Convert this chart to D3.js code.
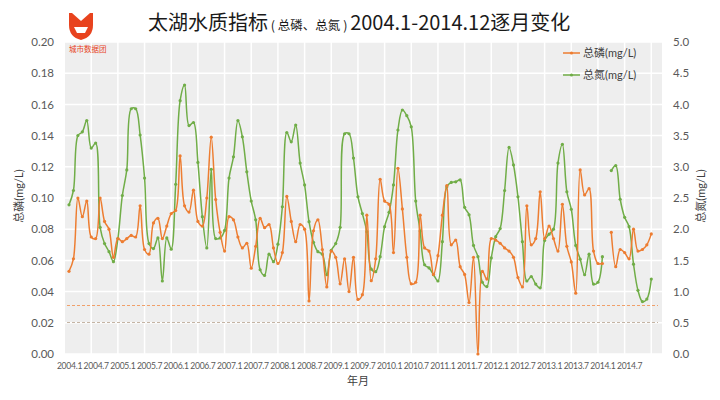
<!DOCTYPE html>
<html><head><meta charset="utf-8">
<script src="https://cdn.jsdelivr.net/npm/d3@7"></script>
<style>
html,body{margin:0;padding:0;background:#fff;}
svg{display:block;}
text{font-family:"Lato","Noto Sans CJK SC",sans-serif;}
</style></head>
<body><svg id="c" width="720" height="400"></svg>
<script>
const years = [2004,2005,2006,2007,2008,2009,2010,2011,2012,2013,2014];
const tickLabels = ["2004.1","2004.7","2005.1","2005.7","2006.1","2006.7","2007.1","2007.7","2008.1","2008.7","2009.1","2009.7","2010.1","2010.7","2011.1","2011.7","2012.1","2012.7","2013.1","2013.7","2014.1","2014.7"];
const leftTicks = [0,0.02,0.04,0.06,0.08,0.10,0.12,0.14,0.16,0.18,0.20];
const rightTicks = [0,0.5,1.0,1.5,2.0,2.5,3.0,3.5,4.0,4.5,5.0];
const seriesNames = ["总磷(mg/L)","总氮(mg/L)"];
// 总磷 TP monthly (mg/L), left axis
const tp = [0.053,0.061,0.100,0.088,0.098,0.075,0.074,0.100,0.085,0.080,0.062,0.074,
0.072,0.074,0.076,0.075,0.095,0.067,0.064,0.084,0.087,0.074,0.082,0.090,
0.092,0.127,0.095,0.091,0.105,0.085,0.082,0.100,0.139,0.099,0.078,0.066,
0.088,0.086,0.075,0.068,0.071,0.055,0.069,0.087,0.081,0.083,0.068,0.058,
0.065,0.101,0.085,0.072,0.083,0.080,0.034,0.079,0.086,0.067,0.043,0.066,
0.062,0.045,0.061,0.040,0.062,0.035,0.038,0.089,0.047,0.061,0.112,0.098,
0.096,0.065,0.119,0.093,0.062,0.045,0.046,0.089,0.068,0.066,0.051,0.063,
0.089,0.108,0.070,0.073,0.056,0.051,0.033,0.062,0.000,0.053,0.048,0.074,
0.073,0.071,0.068,0.066,0.062,0.049,0.043,0.095,0.070,0.074,0.104,0.074,
0.082,0.074,0.066,0.096,0.069,0.059,0.039,0.118,0.102,0.106,0.066,0.058,
0.058,null,0.078,0.056,0.067,0.065,0.061,0.080,0.066,0.067,0.070,0.077];
// 总氮 TN monthly (mg/L), right axis
const tn = [2.39,2.62,3.50,3.56,3.74,3.30,3.38,2.03,1.77,1.64,1.48,1.85,
2.54,2.95,3.93,3.93,3.51,2.82,1.77,1.69,1.86,1.17,1.86,1.68,
2.72,4.06,4.31,3.66,3.71,3.07,2.20,1.70,2.96,1.85,1.86,1.98,
2.82,3.16,3.74,3.48,2.92,2.45,2.15,1.35,1.26,1.60,1.48,1.76,
2.36,3.55,3.40,3.67,3.06,2.71,2.12,1.79,1.64,1.60,1.27,1.66,
1.77,2.03,3.53,3.53,3.14,2.52,2.25,1.96,1.36,1.32,1.56,2.04,
2.27,2.71,3.59,3.91,3.82,3.64,2.45,1.97,1.43,1.38,1.27,1.17,
1.80,2.68,2.75,2.76,2.79,2.35,2.23,1.74,1.56,1.15,1.08,1.54,
1.88,2.01,2.62,3.31,3.03,2.52,1.80,1.17,1.24,1.12,1.06,1.82,
1.92,2.00,3.06,3.36,2.60,2.32,1.74,1.52,1.27,1.60,1.12,1.15,
1.56,null,2.94,3.02,2.48,2.19,2.04,1.44,1.02,0.84,0.88,1.20];
const refLines = [0.031, 0.02];

const months = [];
years.forEach(y => { for (let m = 1; m <= 12; m++) months.push(y + "." + m); });

const svg = d3.select("#c");
const L = 65, R = 662, T = 42, B = 354;
const x = d3.scaleLinear().domain([0, months.length - 1]).range([69, 651.3]);
const yL = d3.scaleLinear().domain([0, 0.2]).range([B, T]);
const yR = d3.scaleLinear().domain([0, 5]).range([B, T]);
const cOr = "#ED7D31", cGr = "#70AD47";

svg.append("rect").attr("x", L).attr("y", T).attr("width", R - L).attr("height", B - T).attr("fill", "#eeeeee");

// gridlines
const g = svg.append("g").attr("stroke", "#ffffff").attr("stroke-width", 1.5);
leftTicks.forEach(v => g.append("line").attr("x1", L).attr("x2", R).attr("y1", yL(v)).attr("y2", yL(v)));
d3.range(5, months.length, 6).forEach(i => g.append("line").attr("x1", x(i)).attr("x2", x(i)).attr("y1", T).attr("y2", B));

// reference dashed lines (snapped to pixel centres)
const snap = v => Math.floor(v) + 0.5;
svg.append("line").attr("x1", L + 2).attr("x2", R - 4).attr("y1", snap(yL(refLines[0]))).attr("y2", snap(yL(refLines[0])))
  .attr("stroke", "#F0A06A").attr("stroke-width", 1).attr("stroke-dasharray", "3,2");
svg.append("line").attr("x1", L + 2).attr("x2", R - 4).attr("y1", snap(yL(refLines[1]))).attr("y2", snap(yL(refLines[1])))
  .attr("stroke", "#C4B4A4").attr("stroke-width", 1).attr("stroke-dasharray", "3,2");

// axes
const axL = svg.append("g").attr("transform", `translate(${L - 8},0)`)
  .call(d3.axisLeft(yL).tickValues(leftTicks).tickFormat(d3.format(".2f")).tickSize(0));
const axR = svg.append("g").attr("transform", `translate(${R + 8},0)`)
  .call(d3.axisRight(yR).tickValues(rightTicks).tickFormat(d3.format(".1f")).tickSize(0));
const axB = svg.append("g").attr("transform", `translate(0,${B + 6})`)
  .call(d3.axisBottom(x).tickValues(d3.range(0, months.length, 6)).tickFormat((d, k) => tickLabels[k]).tickSize(0));
[axL, axR, axB].forEach(a => { a.select(".domain").remove(); a.selectAll("text").attr("fill", "#595959").style("font-family", "Lato, sans-serif"); });
axL.selectAll("text").attr("font-size", 11.5);
axR.selectAll("text").attr("font-size", 11.5);
axB.selectAll("text").attr("font-size", 8.6).attr("dy", "0.71em").attr("letter-spacing", "-0.3");

// axis titles
svg.append("text").attr("transform", "translate(23,196) rotate(-90)").attr("text-anchor", "middle")
  .attr("font-size", 11).attr("fill", "#404040").text(seriesNames[0]);
svg.append("text").attr("transform", "translate(705,196) rotate(-90)").attr("text-anchor", "middle")
  .attr("font-size", 11).attr("fill", "#404040").text(seriesNames[1]);
svg.append("text").attr("x", 358).attr("y", 385).attr("text-anchor", "middle")
  .attr("font-size", 11).attr("fill", "#404040").style("font-family", "Noto Sans CJK SC").text("年月");

// lines
function drawSeries(data, ys, color) {
  const line = d3.line().defined(d => d != null).x((d, i) => x(i)).y(d => ys(d)).curve(d3.curveCatmullRom.alpha(0.5));
  svg.append("path").datum(data).attr("d", line).attr("fill", "none").attr("stroke", color).attr("stroke-width", 1.5);
  svg.append("g").selectAll("circle").data(data.map((v, i) => [v, i]).filter(d => d[0] != null)).join("circle")
    .attr("cx", d => x(d[1])).attr("cy", d => ys(d[0])).attr("r", 1.6).attr("fill", color);
}
drawSeries(tn, yR, cGr);
drawSeries(tp, yL, cOr);

// legend
const lg = svg.append("g");
[[cOr, seriesNames[0], 53], [cGr, seriesNames[1], 75]].forEach(([c, t, yy]) => {
  lg.append("line").attr("x1", 563).attr("x2", 580).attr("y1", yy).attr("y2", yy).attr("stroke", c).attr("stroke-width", 1.5);
  lg.append("circle").attr("cx", 571.5).attr("cy", yy).attr("r", 1.6).attr("fill", c);
  lg.append("text").attr("x", 583).attr("y", yy).attr("dy", "0.35em").attr("font-size", 11).attr("fill", "#404040").text(t);
});

// title
const title = svg.append("text").attr("x", 148).attr("y", 30).attr("fill", "#1a1a1a").style("font-family", "Noto Sans CJK SC");
title.append("tspan").attr("font-size", 20).text("太湖水质指标");
title.append("tspan").attr("font-size", 12.5).text(" ( 总磷、总氮 ) ");
title.append("tspan").attr("font-size", 20).text("2004.1-2014.12逐月变化");

// logo
const logo = svg.append("g").attr("transform", "translate(69,12)");
logo.append("path").attr("d", "M3,1 L12,9 L21,1 L24,1 L24,13 Q24,25 12,28 Q0,25 0,13 L0,1 Z").attr("fill", "#E8431E");
logo.append("path").attr("d", "M5,15 L19,15 L16,21 L8,21 Z").attr("fill", "#fff");
logo.append("text").attr("x", 0).attr("y", 40).attr("font-size", 7.5).attr("fill", "#E8431E")
  .style("font-family", "Noto Sans CJK SC").text("城市数据团");
</script></body></html>
